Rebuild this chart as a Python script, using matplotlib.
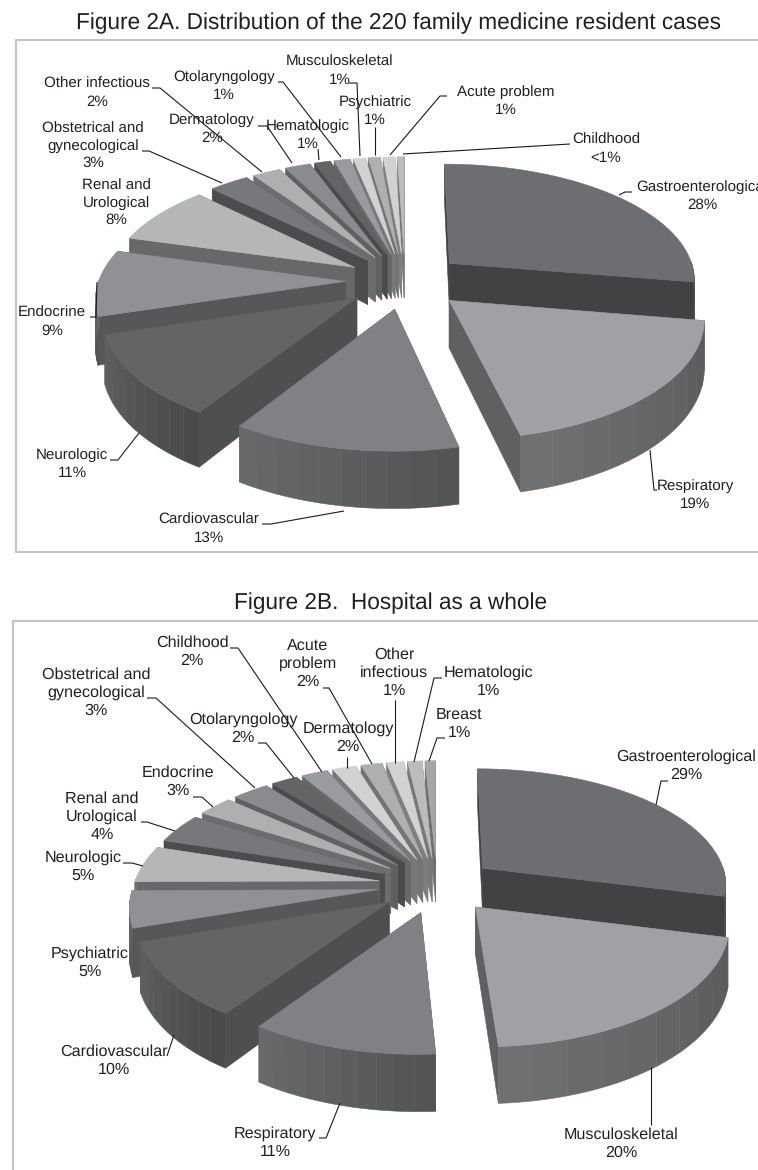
import numpy as np
import matplotlib
matplotlib.use("Agg")
import matplotlib.pyplot as plt

plt.rcParams['font.family'] = ['Liberation Sans', 'DejaVu Sans']
plt.rcParams['text.hinting'] = 'no_hinting'

# ---- data -------------------------------------------------------------
names_a = ["Gastroenterological", "Respiratory", "Cardiovascular", "Neurologic", "Endocrine",
           "Renal and\nUrological", "Obstetrical and\ngynecological", "Other infectious", "Dermatology",
           "Hematologic", "Otolaryngology", "Musculoskeletal", "Psychiatric", "Acute problem", "Childhood"]
values_a = [27.5, 18.7, 12.6, 11.2, 9.0, 8.0, 3.0, 2.1, 1.9, 1.2, 1.2, 0.9, 0.9, 0.9, 0.5]
pct_a = ["28%", "19%", "13%", "11%", "9%", "8%", "3%", "2%", "2%", "1%", "1%", "1%", "1%", "1%", "<1%"]

names_b = ["Gastroenterological", "Musculoskeletal", "Respiratory", "Cardiovascular", "Psychiatric",
           "Neurologic", "Renal and\nUrological", "Endocrine", "Obstetrical and\ngynecological",
           "Otolaryngology", "Childhood", "Dermatology", "Acute\nproblem", "Other\ninfectious",
           "Hematologic", "Breast"]
values_b = [28.9, 20.1, 10.5, 10.3, 5.0, 5.0, 4.0, 2.7, 2.8, 2.0, 2.0, 1.8, 1.6, 1.3, 1.1, 0.8]
pct_b = ["29%", "20%", "11%", "10%", "5%", "5%", "4%", "3%", "3%", "2%", "2%", "2%", "2%", "1%", "1%", "1%"]

# ---- style ------------------------------------------------------------
top_colors = ["#6d6e71", "#a0a1a4", "#808184", "#636466", "#8f9194", "#b5b6b8", "#77787b", "#aeafb1",
              "#8a8b8e", "#636466", "#9a9b9e", "#d1d2d4", "#aeafb1", "#d1d2d4", "#bbbcbe", "#a5a6a8"]
side_colors = ["#414244", "#5f6062", "#58595b", "#4e4f51", "#565759", "#67686a", "#4b4c4e", "#6c6d6f",
               "#5f6062", "#4a4b4d", "#67686a", "#77787a", "#737476", "#7d7e80", "#77787a", "#6f7072"]
LEADER = "#1a1a1a"
TEXT = "#231f20"
BOX = "#c4c4c4"

# ---- layout (pixel space of the figure) -------------------------------
B, P, EXPL, D = 116.0, 0.127, 0.24, 46.0
BANDS = 10

labels_a = [(702, 196), (695, 495), (209, 529), (72, 464), (52, 322), (116, 203), (93, 146), (97, 93), (212, 129),
            (308, 135), (224, 86), (340, 71), (375, 111), (506, 101), (606, 149)]
labels_b = [(686, 766), (621, 1144), (275, 1143), (114, 1061), (90, 963), (83, 867), (102, 817), (178, 782),
            (96, 693), (243, 729), (192, 652), (348, 738), (308, 664), (394, 673), (488, 682), (459, 724)]
leaders_a = [[(619, 195), (625, 192), (632, 192)], [(650, 450), (654, 490), (657, 490)],
             [(344, 511), (271, 524), (262, 524)], [(139, 433), (118, 460), (110, 460)],
             [(97, 282), (96, 317), (90, 317)], [(142, 151), (149, 151), (222, 183)],
             [(152, 88), (160, 88), (262, 172)], [(278, 82), (283, 82), (341, 157)],
             [(258, 126), (267, 126), (292, 163)], [(318, 149), (319, 160)],
             [(349, 83), (357, 83), (360, 156)], [(375, 127), (375, 155)],
             [(447, 96), (440, 96), (390, 155)], [(570, 144), (403, 154)]]
leaders_b = [[(668, 781), (661, 781), (656, 805)], [(651, 1067), (651, 1125)],
             [(319, 1138), (326, 1138), (340, 1103)], [(167, 1056), (174, 1035)],
             [(123, 863), (132, 863), (143, 866)], [(141, 822), (147, 822), (175, 831)],
             [(193, 797), (202, 797), (213, 807)], [(147, 698), (156, 698), (255, 788)],
             [(258, 743), (266, 743), (294, 778)], [(230, 648), (238, 648), (322, 772)],
             [(347, 757), (347, 768)], [(323, 688), (329, 688), (372, 764)],
             [(395, 700), (395, 763)], [(442, 678), (434, 678), (414, 762)],
             [(445, 738), (437, 738), (429, 761)]]


def hex2rgb(h):
    return np.array([int(h[i:i + 2], 16) / 255 for i in (1, 3, 5)])


def draw_pie(ax, values, cx, cy, R):
    vals = np.asarray(values, float)
    edges = np.concatenate([[0], np.cumsum(vals)]) / vals.sum() * 2 * np.pi
    mids = (edges[:-1] + edges[1:]) / 2
    order = np.argsort(-np.cos(mids))
    z = 2.0

    def proj(u, v):
        f = 1 / (1 + P * v)
        return cx + R * u * f, cy - B * v * f

    def drop(v):
        return D * (1 - 0.2 * v)

    def face(xs, ys, col):
        nonlocal z
        ax.fill(xs, ys, facecolor=col, edgecolor=col, lw=0.4, zorder=z)
        z += 0.01

    for i in order:
        top, side = top_colors[i], side_colors[i]
        u0, v0 = EXPL * np.sin(mids[i]), EXPL * np.cos(mids[i])
        th = np.linspace(edges[i], edges[i + 1], max(4, int(np.degrees(edges[i + 1] - edges[i]) * 1.5)))
        us, vs = u0 + np.sin(th), v0 + np.cos(th)
        ax0, ay0 = proj(u0, v0)
        rx, ry = proj(us, vs)
        d0, dr = drop(v0), drop(vs)
        # radial side faces
        for k in (0, -1):
            face([ax0, rx[k], rx[k], ax0], [ay0, ry[k], ry[k] + dr[k], ay0 + d0], side)
        # front part of the outer rim, in vertical shade bands
        base = hex2rgb(side)
        front = np.where(np.cos(th) <= 0.02)[0]
        if len(front) > 1:
            band_of = np.minimum((np.linspace(0, 1, len(front)) * BANDS).astype(int), BANDS - 1)
            for b in np.unique(band_of):
                idx = front[band_of == b]
                idx = np.r_[idx, min(idx[-1] + 1, front[-1])]
                col = np.clip(base + (b / (BANDS - 1) - 0.25) * 0.085, 0, 1)
                face(np.r_[rx[idx], rx[idx][::-1]],
                     np.r_[ry[idx], (ry[idx] + dr[idx])[::-1]], col)
        # top face
        face(np.r_[ax0, rx], np.r_[ay0, ry], top)


def annotate(ax, names, pcts, positions, leaders, size, spacing):
    for n, p, (x, y) in zip(names, pcts, positions):
        ax.text(x, y, n + "\n" + p, ha="center", va="center", fontsize=size, color=TEXT,
                linespacing=spacing, zorder=20)
    for pts in leaders:
        xs, ys = zip(*pts)
        ax.plot(xs, ys, color=LEADER, lw=0.8, zorder=19, solid_capstyle="butt")


fig = plt.figure(figsize=(7.58, 11.70), dpi=100)
ax = fig.add_axes([0, 0, 1, 1])
ax.set_xlim(0, 758)
ax.set_ylim(1170, 0)
ax.axis("off")

# frames
ax.plot([770, 16, 16, 770], [40, 40, 552, 552], color=BOX, lw=1.5, zorder=1)
ax.plot([770, 13, 13], [621, 621, 1175], color=BOX, lw=1.5, zorder=1)

ax.text(398, 23, "Figure 2A. Distribution of the 220 family medicine resident cases",
        ha="center", va="center", fontsize=16.3, color=TEXT)
ax.text(391, 603, "Figure 2B.  Hospital as a whole", ha="center", va="center", fontsize=16.3, color=TEXT)

draw_pie(ax, values_a, 405, 281, 247.0)
draw_pie(ax, values_b, 437, 885, 245.0)
annotate(ax, names_a, pct_a, labels_a, leaders_a, 10.9, 1.32)
annotate(ax, names_b, pct_b, labels_b, leaders_b, 11.6, 1.27)

fig.savefig("out.png", dpi=100, facecolor="white")
